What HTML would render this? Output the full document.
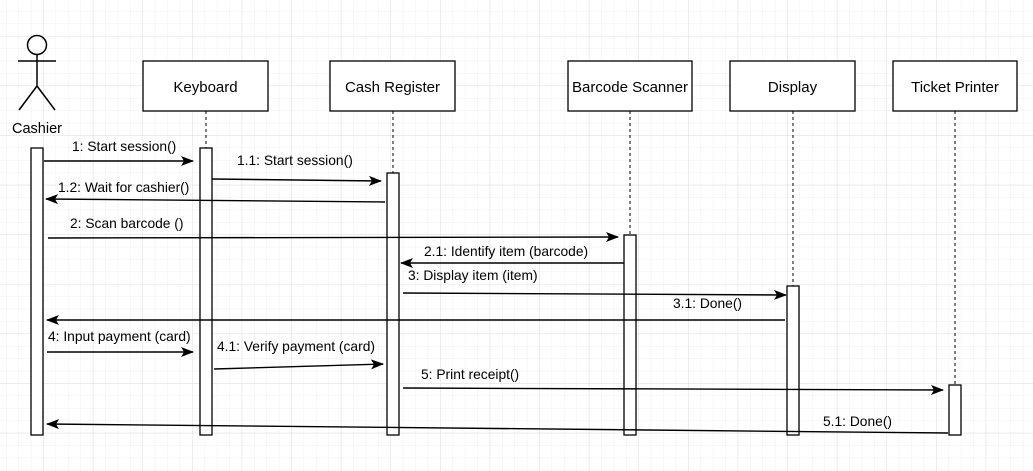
<!DOCTYPE html>
<html><head><style>
html,body{margin:0;padding:0;background:#fff}
svg{display:block}
text{font-family:"Liberation Sans",Arial,sans-serif;fill:#000}
</style></head><body>
<svg width="1033" height="471" viewBox="0 0 1033 471" xmlns="http://www.w3.org/2000/svg">
<defs>
<pattern id="g" x="6" y="-1.2" width="12.4" height="12.4" patternUnits="userSpaceOnUse">
<path d="M0 0V12.4M0 0H12.4" stroke="#f0f0f0" stroke-width="1" fill="none"/>
</pattern>
<pattern id="G" x="43.3" y="36" width="49.6" height="49.6" patternUnits="userSpaceOnUse">
<path d="M0 0V49.6M0 0H49.6" stroke="#e0e0e0" stroke-width="1" fill="none"/>
</pattern>
<marker id="a" markerWidth="13" markerHeight="10" refX="12" refY="5" orient="auto" markerUnits="userSpaceOnUse">
<path d="M0 0L13 5L0 10L3 5Z" fill="#000"/>
</marker>
</defs>
<rect width="1033" height="471" fill="url(#g)"/>
<rect width="1033" height="471" fill="url(#G)"/>
<g stroke="#000" stroke-width="1.5" fill="none">
<circle cx="37" cy="45" r="9.5" fill="#fff"/>
<path d="M37 55V86M18 61H56M37 86L19 110M37 86L55 110"/>
</g>
<text x="37" y="133" font-size="14.5" text-anchor="middle">Cashier</text>
<g stroke="#000" stroke-width="1" stroke-dasharray="3,3">
<path d="M206 111V148M393 111V173M630 111V235M793 111V286M955 111V385"/>
</g>
<g stroke="#000" stroke-width="1.3" fill="#fff">
<rect x="143" y="61" width="125" height="50"/>
<rect x="330" y="61" width="125" height="50"/>
<rect x="568" y="61" width="124" height="50"/>
<rect x="730" y="61" width="125" height="50"/>
<rect x="893" y="61" width="124" height="50"/>
<rect x="31" y="148" width="12" height="287"/>
<rect x="200" y="148" width="12" height="287"/>
<rect x="387" y="173" width="12" height="262"/>
<rect x="624" y="235" width="12" height="200"/>
<rect x="787" y="286" width="12" height="149"/>
<rect x="949" y="385" width="12" height="50"/>
</g>
<g font-size="15" text-anchor="middle">
<text x="205.5" y="92">Keyboard</text>
<text x="392.5" y="92">Cash Register</text>
<text x="630" y="92">Barcode Scanner</text>
<text x="792.5" y="92">Display</text>
<text x="955" y="92">Ticket Printer</text>
</g>
<g stroke="#000" stroke-width="1.4" fill="none" marker-end="url(#a)">
<path d="M44 161H193"/>
<path d="M212 179L381 181"/>
<path d="M385 202L46 199"/>
<path d="M48 238L618 237"/>
<path d="M624 263H401"/>
<path d="M403 293L786 295"/>
<path d="M785 320H47"/>
<path d="M47 352H193"/>
<path d="M214 369L383 364"/>
<path d="M403 388L943 390"/>
<path d="M948 433L47 424"/>
</g>
<g font-size="13.8">
<text x="72" y="151">1: Start session()</text>
<text x="237" y="165">1.1: Start session()</text>
<text x="58" y="192">1.2: Wait for cashier()</text>
<text x="70" y="228">2: Scan barcode ()</text>
<text x="424" y="256">2.1: Identify item (barcode)</text>
<text x="408" y="280">3: Display item (item)</text>
<text x="673" y="308">3.1: Done()</text>
<text x="48" y="341">4: Input payment (card)</text>
<text x="217" y="351">4.1: Verify payment (card)</text>
<text x="421" y="379">5: Print receipt()</text>
<text x="823" y="426">5.1: Done()</text>
</g>
</svg>
</body></html>
